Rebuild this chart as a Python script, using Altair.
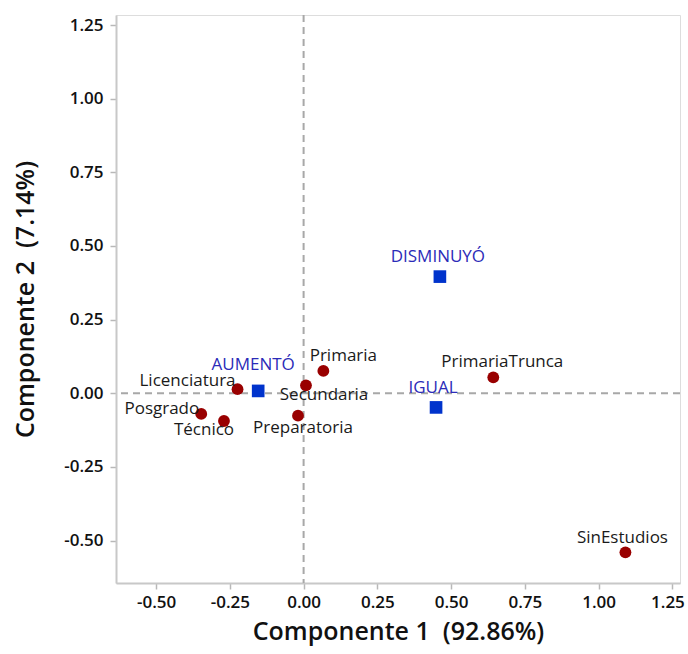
import altair as alt
import pandas as pd

# Education levels (dark red circles)
edu_names = ["Licenciatura", "Posgrado", "Técnico", "Preparatoria", "Secundaria",
             "Primaria", "PrimariaTrunca", "SinEstudios"]
edu_c1 = [-0.224, -0.347, -0.270, -0.019, 0.008, 0.067, 0.643, 1.091]
edu_c2 = [0.014, -0.070, -0.094, -0.076, 0.027, 0.076, 0.054, -0.540]

# Change categories (blue squares)
chg_names = ["AUMENTÓ", "IGUAL", "DISMINUYÓ"]
chg_c1 = [-0.154, 0.449, 0.462]
chg_c2 = [0.008, -0.048, 0.396]

# Axis tick labels
tick_vals = [-0.50, -0.25, 0.00, 0.25, 0.50, 0.75, 1.00, 1.25]

# Label placement (pixel offsets from each point, text alignment)
label_place = {
    "Licenciatura": (-2, -8, "right"),
    "Posgrado": (-2, -5, "right"),
    "Técnico": (-20, 9, "center"),
    "Preparatoria": (5, 12, "center"),
    "Secundaria": (18, 10, "center"),
    "Primaria": (20, -15, "center"),
    "PrimariaTrunca": (9, -15, "center"),
    "SinEstudios": (-3, -14, "center"),
    "AUMENTÓ": (-5, -26, "center"),
    "IGUAL": (-3, -19, "center"),
    "DISMINUYÓ": (-2, -20, "center"),
}

FONT = "Open Sans"
X_DOM = [-0.636, 1.276]
Y_DOM = [-0.644, 1.284]

edu = pd.DataFrame({"name": edu_names, "c1": edu_c1, "c2": edu_c2, "grp": "edu"})
chg = pd.DataFrame({"name": chg_names, "c1": chg_c1, "c2": chg_c2, "grp": "chg"})
pts = pd.concat([edu, chg], ignore_index=True)

xscale = alt.Scale(domain=X_DOM, nice=False, zero=False)
yscale = alt.Scale(domain=Y_DOM, nice=False, zero=False)

# plain hyphen instead of the typographic minus sign
label_expr = "replace(format(datum.value, '.2f'), '\u2212', '-')"

common_axis = dict(
    values=tick_vals, labelExpr=label_expr, grid=False,
    titleFontSize=25, titleFontWeight=600, titleFont=FONT, titleColor="#111111",
    labelFont=FONT, labelFontSize=17, labelFontWeight=600, labelColor="#111111",
    tickSize=6, tickColor="#b8b8b8", domainColor="#c8c8c8",
    domainWidth=2, tickWidth=1.5,
)
# last x label is right-aligned near the frame edge so it stays inside the page
x_axis = alt.Axis(title="Componente 1 \u00a0(92.86%)", titlePadding=9,
                  labelPadding=5, labelFlush=10, labelFlushOffset=12,
                  **common_axis)
y_axis = alt.Axis(title="Componente 2 \u00a0(7.14%)", titlePadding=25,
                  labelPadding=7, labelFlush=False, **common_axis)

base = alt.Chart(pts)

ref_df = pd.DataFrame({"v": [0.0]})
vline = alt.Chart(ref_df).mark_rule(
    color="#a8a8a8", strokeDash=[7, 5], strokeWidth=2
).encode(x=alt.X("v:Q", scale=xscale, axis=x_axis))
hline = alt.Chart(ref_df).mark_rule(
    color="#a8a8a8", strokeDash=[7, 5], strokeWidth=2
).encode(y=alt.Y("v:Q", scale=yscale, axis=y_axis))

circles = base.transform_filter(alt.datum.grp == "edu").mark_point(
    shape="circle", filled=True, size=140, color="#990000", opacity=1
).encode(x=alt.X("c1:Q", scale=xscale), y=alt.Y("c2:Q", scale=yscale))

squares = base.transform_filter(alt.datum.grp == "chg").mark_point(
    shape="square", filled=True, size=160, color="#0033cc", opacity=1
).encode(x=alt.X("c1:Q", scale=xscale), y=alt.Y("c2:Q", scale=yscale))

labels = []
for nm, (dx, dy, al) in label_place.items():
    colr = "#2b2bb8" if nm in chg_names else "#1a1a1a"
    labels.append(
        base.transform_filter(alt.datum.name == nm).mark_text(
            dx=dx, dy=dy, align=al, baseline="middle", font=FONT,
            fontSize=17, color=colr
        ).encode(x=alt.X("c1:Q", scale=xscale), y=alt.Y("c2:Q", scale=yscale),
                 text="name:N")
    )

chart = alt.layer(vline, hline, circles, squares, *labels).properties(
    width=564, height=568,
    autosize=alt.AutoSizeParams(type="none"),
    padding={"left": 116, "top": 15, "right": 8, "bottom": 71},
).configure_view(
    stroke="#c8c8c8", strokeWidth=2, fill="white"
).configure(background="white")

chart.save("out.html", embed_options={"renderer": "svg", "actions": False})
